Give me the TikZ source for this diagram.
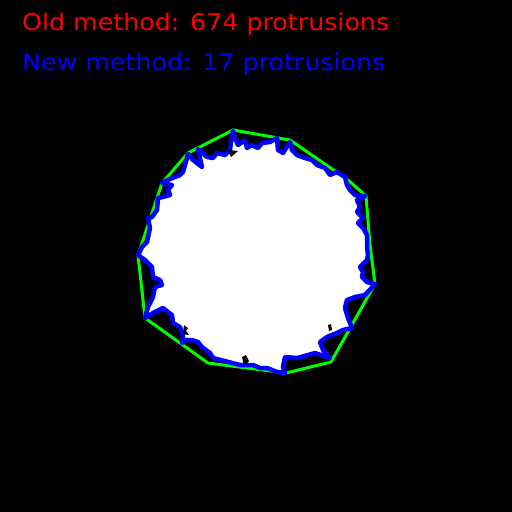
\documentclass[tikz,border=0pt]{standalone}
\usepackage{fontspec}
\setmainfont{DejaVu Sans}
\definecolor{cvred}{RGB}{255,0,0}
\definecolor{cvblue}{RGB}{0,0,255}
\definecolor{cvgreen}{RGB}{0,255,0}
\begin{document}
\begin{tikzpicture}[x=1pt,y=-1pt,
  lbl/.style={anchor=base west,inner sep=0pt,xscale=1.1,font=\fontsize{23}{23}\selectfont},
  hull/.style={draw=cvgreen,line width=3pt,line join=miter},
  contour/.style={draw=cvblue,line width=4.5pt,line join=round},
  speck/.style={fill=black}]
\fill[black] (0,0) rectangle (512,512);
\useasboundingbox (0,0) rectangle (512,512);
\def\blobpath{(233,131) -- (235,138) -- (238,145) -- (245,140) -- (247,148) -- (252,145) -- (258,148) -- (262,143) -- (270,142) -- (277,138) -- (278,150) -- (283,153) -- (288,145) -- (290,142) -- (292,150) -- (297,155) -- (305,158) -- (312,160) -- (317,165) -- (325,168) -- (330,175) -- (337,172) -- (345,177) -- (347,185) -- (350,190) -- (355,195) -- (365,196) -- (357,200) -- (360,207) -- (357,212) -- (363,218) -- (358,223) -- (363,228) -- (367,235) -- (367,247) -- (368,255) -- (367,260) -- (360,267) -- (363,272) -- (362,277) -- (367,282) -- (375,284) -- (365,295) -- (355,297) -- (347,300) -- (345,308) -- (348,318) -- (352,328) -- (343,330) -- (337,333) -- (327,337) -- (320,342) -- (323,350) -- (330,358) -- (315,353) -- (308,355) -- (297,358) -- (285,357) -- (283,367) -- (285,373) -- (277,372) -- (267,368) -- (260,368) -- (253,365) -- (240,365) -- (213,358) -- (210,353) -- (202,347) -- (198,342) -- (192,340) -- (185,340) -- (182,343) -- (183,335) -- (180,327) -- (173,323) -- (172,315) -- (168,312) -- (163,308) -- (153,313) -- (145,318) -- (148,307) -- (153,297) -- (155,287) -- (162,285) -- (160,280) -- (153,277) -- (152,267) -- (145,260) -- (138,255) -- (142,247) -- (147,242) -- (150,228) -- (148,218) -- (152,217) -- (157,210) -- (158,198) -- (163,197) -- (170,195) -- (168,190) -- (172,185) -- (165,184) -- (162,183) -- (170,179) -- (180,175) -- (183,172) -- (187,158) -- (188,154) -- (193,160) -- (202,167) -- (200,158) -- (198,149) -- (207,157) -- (213,158) -- (217,153) -- (225,155) -- (230,150) -- (232,135) -- cycle}
% white blob fill
\fill[white] \blobpath;
% convex hull (old method)
\draw[hull] (233,130) -- (290,140) -- (348,180) -- (366,196) -- (370,245) -- (375,284) -- (331,362) -- (286,373) -- (208,363) -- (145,318) -- (138,255) -- (162,183) -- (188,153) -- cycle;
% contour (new method)
\draw[contour] \blobpath;
% small black specks
\fill[speck] (228,150) -- (238,151) -- (231,157) -- cycle;
\fill[speck] (184,325) -- (188,328) -- (186,331) -- (189,335) -- (183,334) -- cycle;
\fill[speck] (242,357) -- (246,355) -- (249,361) -- (246,365) -- (243,362) -- cycle;
\fill[speck] (328,325) -- (331,324) -- (332,330) -- (329,331) -- cycle;
% labels
\node[lbl,text=cvred] (old) at (22,30) {Old method: 674 protrusions};
\node[lbl,text=cvblue] (new) at (22,70) {New method: 17 protrusions};
\end{tikzpicture}
\end{document}
